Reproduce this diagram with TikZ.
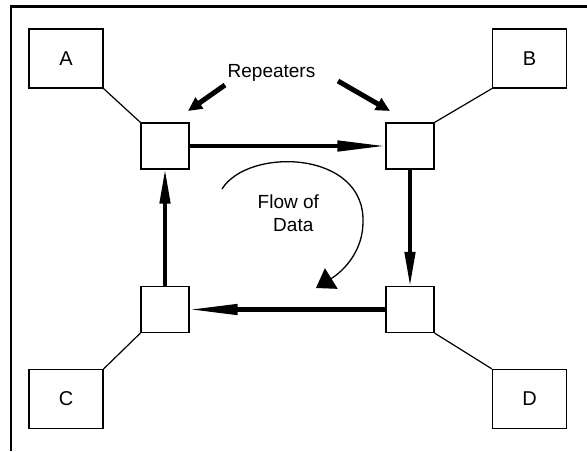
\documentclass[tikz,border=0pt]{standalone}
\usepackage{fontspec}
\setmainfont{Liberation Sans}
\usetikzlibrary{arrows.meta}

\tikzset{
  station/.style={draw, line width=1.2pt, minimum width=74pt, minimum height=59pt,
                  inner sep=0pt, font=\fontsize{20}{24}\selectfont},
  repeater/.style={draw, line width=1.2pt, minimum width=48pt, minimum height=46pt, inner sep=0pt},
  link/.style={line width=1.2pt},
  ringH/.style={line width=4.5pt, -{Triangle[length=50pt,width=10pt]}, shorten >=-2pt},
  ringV/.style={line width=4.5pt, -{Triangle[length=36pt,width=10pt]}, shorten >=-2pt},
  pointer/.style={line width=5pt, -{Triangle[length=14pt,width=13pt]}},
  flow/.style={line width=1.3pt, -{Triangle[length=18pt,width=24pt]}},
  label/.style={font=\fontsize{19}{23}\selectfont, inner sep=0pt, anchor=base},
  frame/.style={line width=2.5pt}
}

\begin{document}
\begin{tikzpicture}[x=1pt, y=-1pt]
  \useasboundingbox (0,0) rectangle (587,451);

  % partial border
  \draw[frame] (11,451) -- (11,6.5) -- (587,6.5);

  % end stations
  \node[station] (A) at (66,58.5) {A};
  \node[station] (B) at (529.5,58.5) {B};
  \node[station] (C) at (66,399) {C};
  \node[station] (D) at (529.5,399) {D};

  % repeaters on the ring
  \node[repeater] (tl) at (165,146) {};
  \node[repeater] (tr) at (410,146) {};
  \node[repeater] (bl) at (165,309.5) {};
  \node[repeater] (br) at (410,309.5) {};

  % station drops
  \draw[link] (A.south east) -- (tl.north west);
  \draw[link] (B.south west) -- (tr.north east);
  \draw[link] (C.north east) -- (bl.south west);
  \draw[link] (D.north west) -- (br.south east);

  % ring, clockwise
  \draw[ringH] (tl.east) -- (tr.west);
  \draw[ringV] (tr.south) -- (br.north);
  \draw[ringH] (br.west) -- (bl.east);
  \draw[ringV] (bl.north) -- (tl.south);

  % label and pointers
  \node[label] (rep) at (271.5,77) {Repeaters};
  \coordinate (p1s) at (225,85);
  \coordinate (p1e) at (188,111);
  \coordinate (p2s) at (338,81);
  \coordinate (p2e) at (390,111);
  \draw[pointer] (p1s) -- (p1e);
  \draw[pointer] (p2s) -- (p2e);

  % direction of data flow
  \node[label] (flow1) at (288.3,208.3) {Flow of};
  \node[label] (flow2) at (293.3,231) {Data};
  \coordinate (fs) at (222,189);
  \coordinate (fm) at (363,222);
  \coordinate (fe) at (316,288);
  \draw[flow] (fs) .. controls (248,147) and (365,150) .. (fm)
                   .. controls (363,250) and (345,270) .. (fe);
\end{tikzpicture}
\end{document}
